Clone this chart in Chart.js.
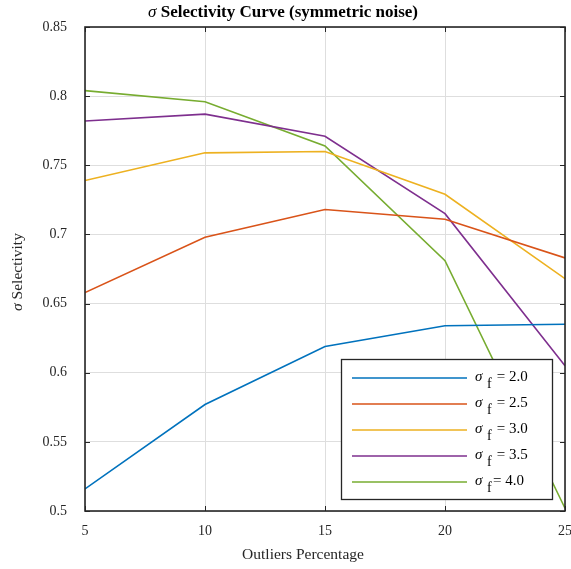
<!DOCTYPE html>
<html>
<head>
<meta charset="utf-8">
<script src="https://cdn.jsdelivr.net/npm/chart.js@4"></script>
<style>
  html, body { margin: 0; padding: 0; background: #fff; }
  #wrap { width: 571px; height: 569px; }
</style>
</head>
<body>
<div id="wrap"><canvas id="chart" width="571" height="569"></canvas></div>
<script>
// outlier percentages on the x axis
const outliers = [5, 10, 15, 20, 25];
// sigma selectivity for each sigma_f
const sf20 = [0.516, 0.577, 0.619, 0.634, 0.635];
const sf25 = [0.658, 0.698, 0.718, 0.711, 0.683];
const sf30 = [0.739, 0.759, 0.760, 0.729, 0.668];
const sf35 = [0.782, 0.787, 0.771, 0.715, 0.605];
const sf40 = [0.804, 0.796, 0.764, 0.681, 0.502];
const seriesLabels = ['2.0', '2.5', '3.0', '3.5', '4.0'];
const colors = ['#0072BD', '#D95319', '#EDB120', '#7E2F8E', '#77AC30'];

const serif = '"Liberation Serif", "DejaVu Serif", serif';

function toPoints(ys) {
  return ys.map((y, i) => ({ x: outliers[i], y: y }));
}

const allSeries = [sf20, sf25, sf30, sf35, sf40];
const datasets = allSeries.map((s, i) => ({
  label: 'σ f = ' + seriesLabels[i],
  data: toPoints(s),
  borderColor: colors[i],
  backgroundColor: colors[i],
  borderWidth: 1.6,
  pointRadius: 0,
  tension: 0,
  fill: false
}));

// box, inward ticks, titles and legend in the MATLAB look
const matlabDecor = {
  id: 'matlabDecor',
  afterDatasetsDraw(chart) {
    const ctx = chart.ctx;
    const a = chart.chartArea;
    const xs = chart.scales.x, ys = chart.scales.y;
    ctx.save();

    // ticks on all four sides
    ctx.strokeStyle = '#262626';
    ctx.lineWidth = 1;
    const tl = 5;
    xs.ticks.forEach(t => {
      const px = Math.round(xs.getPixelForValue(t.value)) + 0.5;
      ctx.beginPath();
      ctx.moveTo(px, a.bottom); ctx.lineTo(px, a.bottom - tl);
      ctx.moveTo(px, a.top); ctx.lineTo(px, a.top + tl);
      ctx.stroke();
    });
    ys.ticks.forEach(t => {
      const py = Math.round(ys.getPixelForValue(t.value)) + 0.5;
      ctx.beginPath();
      ctx.moveTo(a.left, py); ctx.lineTo(a.left + tl, py);
      ctx.moveTo(a.right, py); ctx.lineTo(a.right - tl, py);
      ctx.stroke();
    });

    // box
    ctx.lineWidth = 1.6;
    ctx.strokeRect(a.left, a.top, a.right - a.left, a.bottom - a.top);

    // title
    ctx.fillStyle = '#000';
    ctx.textBaseline = 'middle';
    ctx.textAlign = 'left';
    const titleRest = ' Selectivity Curve (symmetric noise)';
    ctx.font = 'bold 17px ' + serif;
    const wRest = ctx.measureText(titleRest).width;
    ctx.font = 'italic 17px ' + serif;
    const wSig = ctx.measureText('σ').width;
    let tx = 283 - (wRest + wSig) / 2;
    ctx.fillText('σ', tx, 13);
    ctx.font = 'bold 17px ' + serif;
    ctx.fillText(titleRest, tx + wSig, 13);

    // x axis title
    ctx.font = '15.5px ' + serif;
    ctx.textAlign = 'center';
    ctx.fillStyle = '#262626';
    ctx.fillText('Outliers Percentage', 303, 555);

    // y axis title
    ctx.save();
    ctx.translate(18, 272);
    ctx.rotate(-Math.PI / 2);
    ctx.textAlign = 'left';
    ctx.font = 'italic 15.5px ' + serif;
    const ySig = ctx.measureText('σ ').width;
    ctx.font = '15.5px ' + serif;
    const yRest = ctx.measureText('Selectivity').width;
    ctx.font = 'italic 15.5px ' + serif;
    ctx.fillText('σ', -(ySig + yRest) / 2, 0);
    ctx.font = '15.5px ' + serif;
    ctx.fillText('Selectivity', -(ySig + yRest) / 2 + ySig, 0);
    ctx.restore();

    // legend
    const lx = 341, ly = 359, lw = 211, lh = 140;
    ctx.fillStyle = '#fff';
    ctx.fillRect(lx, ly, lw, lh);
    ctx.strokeStyle = '#262626';
    ctx.lineWidth = 1.3;
    ctx.strokeRect(lx + 0.5, ly + 0.5, lw, lh);
    const rows = [378, 404, 430, 456, 482];
    chart.data.datasets.forEach((ds, i) => {
      const ry = rows[i];
      ctx.strokeStyle = ds.borderColor;
      ctx.lineWidth = 1.6;
      ctx.beginPath();
      ctx.moveTo(352, ry); ctx.lineTo(467, ry);
      ctx.stroke();
      ctx.fillStyle = '#000';
      ctx.textAlign = 'left';
      ctx.textBaseline = 'middle';
      ctx.font = 'italic 15px ' + serif;
      ctx.fillText('σ', 475, ry - 1);
      ctx.font = '14px ' + serif;
      ctx.fillText('f', 487, ry + 6);
      ctx.font = '15px ' + serif;
      const eq = i === 4 ? '= ' + seriesLabels[i] : ' = ' + seriesLabels[i];
      ctx.fillText(eq, 493, ry - 1);
    });

    ctx.restore();
  }
};

new Chart(document.getElementById('chart'), {
  type: 'line',
  data: { datasets: datasets },
  plugins: [matlabDecor],
  options: {
    responsive: false,
    animation: false,
    layout: { padding: { top: 27, right: 6, left: 0, bottom: 0 } },
    plugins: {
      legend: { display: false },
      title: { display: false },
      tooltip: { enabled: false }
    },
    scales: {
      x: {
        type: 'linear',
        min: 5,
        max: 25,
        afterFit(scale) {
          scale.height = 58;
          scale.paddingLeft = 0;
          scale.paddingRight = 0;
        },
        ticks: {
          stepSize: 5,
          padding: 12,
          color: '#262626',
          font: { family: serif, size: 14 }
        },
        grid: { color: '#dedede', lineWidth: 1, drawTicks: false },
        border: { display: false }
      },
      y: {
        min: 0.5,
        max: 0.85,
        afterFit(scale) {
          scale.width = 85;
          scale.paddingTop = 0;
          scale.paddingBottom = 0;
        },
        ticks: {
          stepSize: 0.05,
          padding: 18,
          color: '#262626',
          font: { family: serif, size: 14 },
          callback: v => String(parseFloat(v.toFixed(2)))
        },
        grid: { color: '#dedede', lineWidth: 1, drawTicks: false },
        border: { display: false }
      }
    }
  }
});
</script>
</body>
</html>
